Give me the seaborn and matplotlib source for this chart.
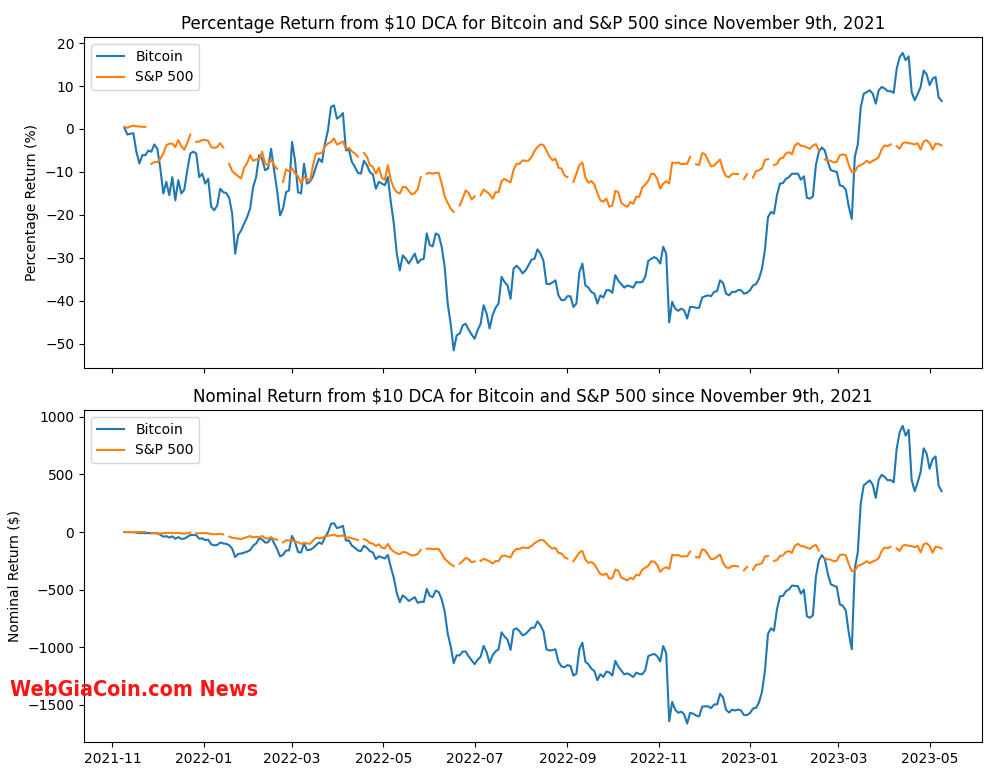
import numpy as np
import pandas as pd
import matplotlib
matplotlib.use("Agg")
import matplotlib.pyplot as plt
import matplotlib.dates as mdates
import seaborn as sns

# ---------------- data ----------------
START = "2021-11-09"          # first DCA purchase
STEP_DAYS = 2                 # values sampled every 2 calendar days
DCA_AMOUNT = 10               # dollars per purchase

# Bitcoin: percentage return (%) of the $10 daily DCA
BTC_PCT = [
    0.3, -1.3, -1.1, -1.0, -5.3, -8.0, -6.1, -6.1, -5.0, -5.3,
    -3.6, -4.6, -9.2, -15.0, -12.3, -15.4, -11.2, -16.6, -11.9, -15.0,
    -14.1, -9.6, -5.7, -5.3, -5.7, -11.2, -10.4, -12.7, -11.6, -18.1,
    -18.9, -17.8, -13.9, -14.7, -14.9, -16.0, -19.7, -29.0, -24.7, -23.6,
    -22.0, -20.5, -18.5, -13.5, -11.2, -6.1, -6.9, -9.6, -9.2, -4.6,
    -9.6, -14.3, -20.1, -18.5, -14.7, -14.3, -3.0, -7.3, -14.7, -15.0,
    -8.1, -12.7, -12.3, -11.0, -8.8, -6.9, -7.7, -3.4, -0.3, 5.1,
    5.5, 2.4, 2.9, 3.7, -5.0, -4.8, -7.7, -8.8, -10.2, -10.4,
    -7.4, -8.4, -10.0, -10.6, -13.9, -12.3, -12.7, -13.1, -11.2, -17.0,
    -22.0, -29.0, -32.9, -29.4, -30.2, -31.3, -30.2, -29.0, -31.2, -30.4,
    -30.2, -24.3, -27.0, -27.3, -24.3, -24.7, -27.4, -32.1, -40.6, -45.3,
    -51.5, -48.0, -47.6, -45.7, -45.3, -46.7, -47.8, -48.8, -46.8, -45.3,
    -41.0, -42.9, -46.4, -43.3, -41.6, -40.6, -34.4, -35.6, -36.4, -39.5,
    -32.5, -31.8, -32.5, -33.6, -32.9, -31.7, -30.4, -30.2, -28.0, -29.0,
    -30.7, -36.0, -36.1, -35.7, -35.2, -38.7, -39.8, -39.8, -38.9, -38.9,
    -41.4, -40.6, -33.3, -31.3, -36.4, -36.9, -37.9, -38.3, -40.6, -38.7,
    -39.2, -37.5, -37.5, -38.1, -34.0, -35.3, -36.1, -36.9, -36.4, -36.6,
    -36.9, -35.6, -35.7, -35.6, -34.4, -30.7, -30.2, -29.8, -30.2, -31.3,
    -27.4, -29.0, -45.0, -40.2, -41.8, -42.3, -41.8, -42.2, -44.1, -41.4,
    -41.4, -41.6, -41.6, -39.2, -38.9, -38.7, -38.9, -37.9, -37.7, -35.2,
    -35.8, -38.3, -38.7, -37.9, -37.9, -37.5, -37.5, -38.3, -38.1, -37.5,
    -36.4, -36.1, -34.8, -32.5, -28.0, -20.5, -19.3, -19.7, -15.4, -12.7,
    -12.6, -11.6, -11.2, -10.4, -10.4, -10.4, -11.8, -11.0, -16.0, -16.2,
    -15.7, -8.4, -5.3, -4.3, -5.0, -7.7, -9.6, -9.8, -10.0, -13.1,
    -13.3, -14.1, -18.1, -20.9, -6.5, -3.6, 5.1, 8.2, 8.6, 9.0,
    8.2, 5.9, 9.0, 9.8, 9.4, 8.8, 8.8, 8.4, 14.0, 16.7,
    17.7, 16.0, 16.9, 8.6, 6.7, 8.1, 9.8, 13.6, 12.7, 10.2,
    11.7, 12.1, 7.4, 6.5,
]

# S&P 500: percentage return (%) of the $10 per-trading-day DCA
# (None = market holiday, shown as a gap in the line)
SP_PCT = [
    0.5, 0.3, 0.6, 0.8, 0.6, 0.6, 0.5, 0.5, None, -8.1,
    -7.7, -7.7, -6.9, -5.7, -3.8, -3.4, -3.4, -4.2, -2.6, -4.0,
    -4.8, -3.3, -1.3, None, -3.0, -2.9, -2.6, -2.5, -2.8, -4.2,
    -4.4, -4.2, -3.3, -4.3, None, -8.1, -9.8, -10.4, -11.0, -11.5,
    -9.0, -7.9, -6.1, -7.4, -7.1, -7.1, -5.3, -8.1, -8.3, -7.1,
    -8.4, -9.3, None, -12.3, -9.4, -9.8, -9.1, -10.4, -11.0, -12.6,
    -11.2, -11.6, -12.1, -8.5, -5.7, -5.7, -5.6, -4.0, -3.4, -3.0,
    -2.2, -3.6, -3.3, -2.9, -4.6, -4.4, -5.2, -5.7, -6.4, None,
    -5.6, -6.4, -8.4, -8.8, -10.4, -9.0, -11.4, -11.8, -8.4, -11.9,
    -13.7, -14.7, -15.0, -13.5, -13.5, -14.4, -15.2, -14.9, -14.0, -11.2,
    None, -10.4, -10.2, -10.4, -10.2, -10.2, -12.7, -15.7, -17.2, -18.5,
    -19.3, None, -17.8, -16.2, -14.3, -14.9, -16.4, -15.7, None, -15.4,
    -14.1, -14.6, -15.2, -16.2, -14.7, -14.7, -12.1, -11.6, -12.1, -12.4,
    -9.5, -8.1, -8.1, -7.3, -7.4, -7.4, -6.5, -5.1, -4.2, -3.6,
    -3.7, -5.0, -6.4, -7.3, -6.9, -9.0, -9.2, -10.8, -11.2, None,
    -12.3, -10.4, -8.4, -7.8, -11.3, -12.5, -12.1, -12.9, -14.9, -16.6,
    -16.9, -16.2, -18.1, -17.8, -14.4, -14.7, -17.2, -17.7, -18.1, -17.0,
    -17.4, -15.7, -15.8, -13.6, -12.9, -12.1, -10.4, -10.5, -11.6, -13.9,
    -12.7, -12.2, -12.7, -7.8, -7.9, -7.8, -8.2, -8.1, -8.1, -6.5,
    None, -8.2, -8.4, -5.6, -5.9, -7.3, -8.7, -8.5, -7.8, -7.1,
    -9.6, -11.0, -11.2, -10.5, -10.4, -10.5, None, -11.6, -10.5, None,
    -11.3, -9.8, -9.6, -9.2, -7.2, -7.0, None, -8.4, -8.1, -6.9,
    -6.7, -5.7, -5.4, -5.9, -3.8, -3.3, -3.9, -4.0, -4.3, -4.6,
    -3.9, -3.5, -5.0, None, -7.1, -7.3, -7.4, -7.8, -7.6, -6.1,
    -5.9, -6.1, -8.4, -10.1, -10.0, -8.7, -8.4, -8.0, -7.4, -7.9,
    -7.4, -7.1, -6.5, -4.7, -3.8, -4.0, -3.6, None, -4.0, -4.6,
    -3.3, -3.1, -3.3, -3.4, -3.6, -3.3, -4.8, -2.9, -2.6, -3.3,
    -4.8, -3.4, -3.5, -3.8,
]

# US market holidays in the period (no S&P purchase on those days)
HOLIDAYS = [
    "2021-11-25", "2021-12-24", "2022-01-17", "2022-02-21", "2022-04-15",
    "2022-05-30", "2022-06-20", "2022-07-04", "2022-09-05", "2022-11-24",
    "2022-12-26", "2023-01-02", "2023-01-16", "2023-02-20", "2023-04-07",
]

SERIES = ["Bitcoin", "S&P 500"]
TITLES = [
    "Percentage Return from \\$10 DCA for Bitcoin and S&P 500 since November 9th, 2021",
    "Nominal Return from \\$10 DCA for Bitcoin and S&P 500 since November 9th, 2021",
]
YLABELS = ["Percentage Return (%)", "Nominal Return (\\$)"]
WATERMARK = "WebGiaCoin.com News"

# ---------------- build tables ----------------
dates = pd.date_range(START, periods=len(BTC_PCT), freq=f"{STEP_DAYS}D")
btc_pct = np.array(BTC_PCT, dtype=float)
sp_pct = np.array([np.nan if v is None else v for v in SP_PCT], dtype=float)

# amount invested so far: one purchase per calendar day (BTC) / per trading day (S&P)
btc_buys = (dates - pd.Timestamp(START)).days.values + 1
sp_buys = np.busday_count(np.datetime64(START),
                          (dates + pd.Timedelta(days=1)).values.astype("datetime64[D]"),
                          holidays=np.array(HOLIDAYS, dtype="datetime64[D]"))
btc_nom = btc_pct / 100 * DCA_AMOUNT * btc_buys
sp_nom = sp_pct / 100 * DCA_AMOUNT * sp_buys

sp_seg = np.cumsum(np.isnan(sp_pct))
df = pd.concat([
    pd.DataFrame({"date": dates, "pct": btc_pct, "nom": btc_nom,
                  "asset": SERIES[0], "seg": -1}),
    pd.DataFrame({"date": dates, "pct": sp_pct, "nom": sp_nom,
                  "asset": SERIES[1], "seg": sp_seg}),
], ignore_index=True).dropna(subset=["pct"])

# ---------------- figure ----------------
W, H = 993, 768
fig = plt.figure(figsize=(W / 100, H / 100), dpi=100)
ax1 = fig.add_axes([84 / W, 1 - 368 / H, (982 - 84) / W, 331 / H])
ax2 = fig.add_axes([84 / W, 1 - 742 / H, (982 - 84) / W, 332 / H])

palette = {SERIES[0]: "#1f77b4", SERIES[1]: "#ff7f0e"}
for ax, col, title, ylab in [(ax1, "pct", TITLES[0], YLABELS[0]),
                             (ax2, "nom", TITLES[1], YLABELS[1])]:
    sns.lineplot(data=df, x="date", y=col, hue="asset", hue_order=SERIES,
                 units="seg", estimator=None, palette=palette,
                 linewidth=1.5, ax=ax)
    sns.move_legend(ax, "upper left", title=None, fontsize=10)
    ax.set_title(title, fontsize=12)
    ax.set_ylabel(ylab, fontsize=10)
    ax.set_xlabel("")
    ax.xaxis.set_major_locator(mdates.MonthLocator(bymonth=[1, 3, 5, 7, 9, 11]))
    ax.xaxis.set_major_formatter(mdates.DateFormatter("%Y-%m"))
    ax.set_xlim(pd.Timestamp("2021-10-13"), pd.Timestamp("2023-06-05"))

ax1.set_ylim(-55.6, 21.4)
ax1.set_yticks([-50, -40, -30, -20, -10, 0, 10, 20])
ax1.tick_params(labelbottom=False)
ax2.set_ylim(-1823, 1060)
ax2.set_yticks([-1500, -1000, -500, 0, 500, 1000])

# red watermark, condensed heavy lettering fitted to ~248 px width
wm = fig.text(10 / W, 1 - 690 / H, WATERMARK, color="#ff1414", fontsize=20,
              fontweight="heavy", fontstretch="condensed", va="center", ha="left",
              family=["DejaVu Sans"], zorder=10)
renderer = fig.canvas.get_renderer()
width_px = wm.get_window_extent(renderer).width
wm.set_fontsize(20 * 248 / width_px)

fig.savefig("out.png", dpi=100)
